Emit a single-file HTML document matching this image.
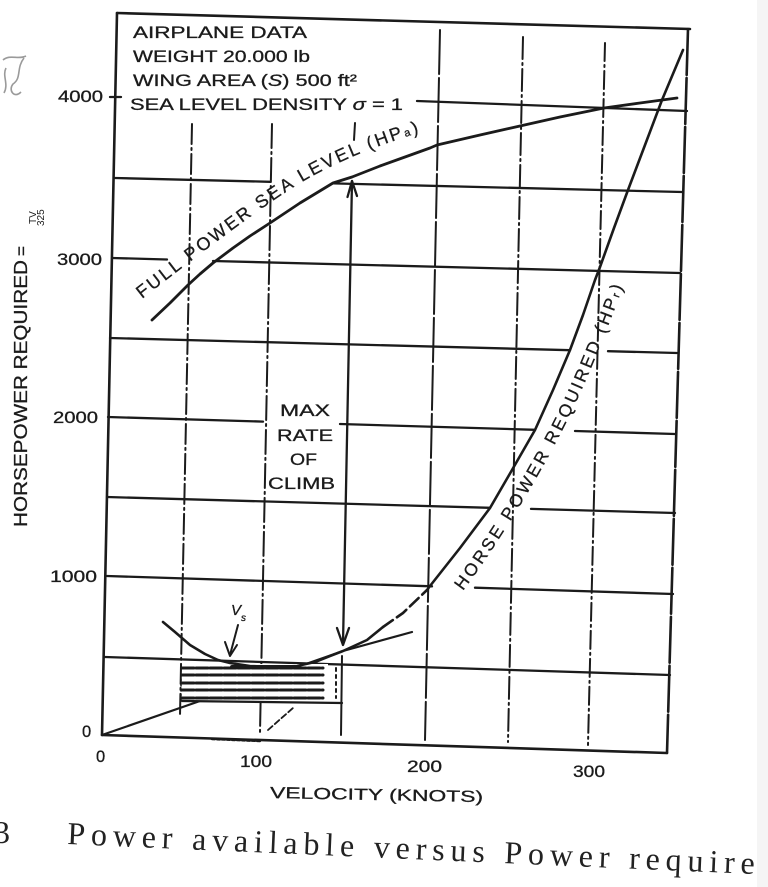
<!DOCTYPE html>
<html><head><meta charset="utf-8"><style>
html,body{margin:0;padding:0;background:#fff;}
svg{display:block;}
</style></head><body>
<svg width="768" height="887" viewBox="0 0 768 887" xmlns="http://www.w3.org/2000/svg">
<rect width="768" height="887" fill="#fff"/>
<rect x="757" y="0" width="11" height="887" fill="#f5f5f5"/>
<defs>
<path id="fp" d="M142,299 C197,256 257,210 297,185 C327,167 367,148 425,131"/>
<path id="hr" d="M463,591 C495,548 536,483 566,423 C586,383 606,333 624,284"/>
</defs>
<!-- scribble -->
<path d="M3,60 C10,54 18,60 26,56 M24,58 C16,68 22,78 13,84 C8,90 14,99 21,92 M6,68 C2,76 9,84 4,93" stroke="#9a9a9a" stroke-width="1.6" fill="none"/>
<g stroke="#1b1b1b" fill="none" stroke-linecap="round" stroke-linejoin="round">
 <!-- frame -->
 <g stroke-width="2.6">
  <line x1="117" y1="13" x2="690" y2="29"/>
  <line x1="117" y1="13" x2="102" y2="735"/>
  <line x1="102" y1="735" x2="667" y2="753"/>
  <line x1="688" y1="29" x2="667" y2="753" stroke-dasharray="46 3"/>
 </g>
 <!-- horizontal grid -->
 <g stroke-width="2.3">
  <line x1="105" y1="657" x2="670" y2="675"/>
  <line x1="107" y1="576" x2="432" y2="586.3"/>
  <line x1="475" y1="587.7" x2="673" y2="594"/>
  <line x1="107" y1="497" x2="490" y2="507.8"/>
  <line x1="531" y1="508.9" x2="675" y2="513"/>
  <line x1="108" y1="417" x2="263" y2="421.6"/>
  <line x1="340" y1="424" x2="535" y2="429.8"/>
  <line x1="575" y1="431" x2="675" y2="434"/>
  <line x1="110" y1="338" x2="570" y2="350.2"/>
  <line x1="608" y1="351.2" x2="677" y2="353"/>
  <line x1="112" y1="258" x2="167" y2="259.5"/>
  <line x1="213" y1="261" x2="680" y2="273"/>
  <line x1="115" y1="178" x2="270" y2="181.8"/>
  <line x1="333" y1="183.4" x2="682" y2="192"/>
  <line x1="110" y1="97" x2="121" y2="97"/>
  <line x1="417" y1="101" x2="687" y2="111"/>
 </g>
 <!-- vertical grid -->
 <g stroke-width="2">
  <line x1="192" y1="124" x2="180" y2="715" stroke-dasharray="20 4 2 4"/>
  <line x1="272" y1="124" x2="260" y2="732" stroke-dasharray="24 4 2 4"/>
  <line x1="440" y1="30" x2="425" y2="740" stroke-dasharray="44 4"/>
  <line x1="523" y1="37" x2="508" y2="742" stroke-dasharray="22 4 2 4"/>
  <line x1="605" y1="43" x2="588" y2="745" stroke-dasharray="18 4 2 4"/>
  <line x1="355" y1="123" x2="354" y2="140"/>
  <line x1="342" y1="656" x2="341" y2="735"/>
 </g>
 <!-- max rate of climb arrow -->
 <g stroke-width="2.3">
  <line x1="352" y1="181" x2="343" y2="644"/>
  <polyline points="347.5,197 352,181 357,196"/>
  <polyline points="337,628 343,645 349,628"/>
 </g>
 <!-- full power curve -->
 <polyline stroke-width="2.8" points="152,320 170,303 188,285 200,274 213,263 233,248 250,236 270,223 300,203 333,183 352,177 380,166 405,157 430,148 437,145 480,135 520,126 560,117 604,108 640,103 677,98"/>
 <!-- tangent line -->
 <polyline stroke-width="2.2" points="102,735 200,701 343,651 412,632"/>
 <!-- hatched box -->
 <rect x="183" y="664" width="145" height="37" fill="#fff" stroke="none"/>
 <g stroke-width="3" stroke-dasharray="12 2">
  <line x1="182" y1="668" x2="323" y2="668"/>
  <line x1="182" y1="675" x2="323" y2="675"/>
  <line x1="182" y1="683" x2="323" y2="683"/>
  <line x1="182" y1="690" x2="323" y2="690"/>
  <line x1="182" y1="698" x2="323" y2="698"/>
 </g>
 <line x1="182" y1="701" x2="342" y2="703" stroke-width="2.2"/>
 <line x1="181" y1="664" x2="181" y2="700" stroke-width="1.5" stroke-dasharray="2 3"/>
 <line x1="336" y1="668" x2="336" y2="698" stroke-width="2" stroke-dasharray="3 4"/>
 <line x1="268" y1="730" x2="293" y2="708" stroke-width="1.8" stroke-dasharray="6 3"/>
 <line x1="212" y1="739" x2="260" y2="741" stroke-width="2.5" stroke-dasharray="3 2"/>
 <!-- HP required curve -->
 <polyline stroke-width="2.6" points="163,622 175,632 190,645 205,654 218,660 230,663 250,666 275,667 297,666 315,662 330,656 343,651 367,640 383,627"/>
 <line x1="232" y1="667" x2="297" y2="667" stroke-width="4"/>
 <polyline stroke-width="2.6" stroke-dasharray="12 5" points="383,627 403,613 427,590 430,586"/>
 <polyline stroke-width="2.6" points="430,586 460,548 490,508 512,470 535,430 553,390 570,350 583,315 595,280 600,267 614,228 628,190 645,145 662,100 683,50"/>
 <!-- Vs arrow -->
 <line x1="238" y1="625" x2="230" y2="655" stroke-width="2"/>
 <polyline stroke-width="2" points="225,642 230,656 237,645"/>
</g>
<g fill="#1b1b1b" stroke="#1b1b1b" stroke-width="0.3" font-family="Liberation Sans, Arial, sans-serif">
 <!-- airplane data -->
 <text x="133" y="38" font-size="16.5" textLength="174" lengthAdjust="spacingAndGlyphs">AIRPLANE DATA</text>
 <text x="133" y="62" font-size="16.5" textLength="177" lengthAdjust="spacingAndGlyphs">WEIGHT 20.000 lb</text>
 <text x="133" y="86" font-size="16.5" textLength="224" lengthAdjust="spacingAndGlyphs">WING AREA (<tspan font-style="italic">S</tspan>) 500 ft²</text>
 <text x="130" y="110" font-size="16.5" textLength="273" lengthAdjust="spacingAndGlyphs">SEA LEVEL DENSITY <tspan font-style="italic">σ</tspan> = 1</text>
 <!-- y ticks -->
 <text x="58" y="102" font-size="16.5" textLength="45" lengthAdjust="spacingAndGlyphs">4000</text>
 <text x="57" y="265" font-size="16.5" textLength="45" lengthAdjust="spacingAndGlyphs">3000</text>
 <text x="53" y="423" font-size="16.5" textLength="45" lengthAdjust="spacingAndGlyphs">2000</text>
 <text x="50" y="582" font-size="16.5" textLength="47" lengthAdjust="spacingAndGlyphs">1000</text>
 <text x="82" y="737" font-size="16.5">0</text>
 <!-- x ticks -->
 <text x="96" y="762" font-size="16.5">0</text>
 <text x="240" y="767" font-size="16.5" textLength="32" lengthAdjust="spacingAndGlyphs">100</text>
 <text x="407" y="772" font-size="16.5" textLength="35" lengthAdjust="spacingAndGlyphs">200</text>
 <text x="573" y="777" font-size="16.5" textLength="32" lengthAdjust="spacingAndGlyphs">300</text>
 <text transform="translate(270,798) rotate(1.1)" font-size="16" textLength="213" lengthAdjust="spacingAndGlyphs">VELOCITY (KNOTS)</text>
 <!-- y label -->
 <text transform="translate(27,527) rotate(-90)" font-size="18" textLength="267" lengthAdjust="spacingAndGlyphs">HORSEPOWER REQUIRED</text>
 <text transform="translate(27,256) rotate(-90)" font-size="17">=</text>
 <text transform="translate(36,224) rotate(-90)" font-size="10" stroke="none">TV</text>
 <text transform="translate(44,226) rotate(-90)" font-size="10" stroke="none">325</text>
 <!-- max rate of climb -->
 <text x="280" y="416" font-size="17" textLength="50" lengthAdjust="spacingAndGlyphs">MAX</text>
 <text x="277" y="441" font-size="17" textLength="56" lengthAdjust="spacingAndGlyphs">RATE</text>
 <text x="290" y="465" font-size="17" textLength="27" lengthAdjust="spacingAndGlyphs">OF</text>
 <text x="268" y="489" font-size="17" textLength="67" lengthAdjust="spacingAndGlyphs">CLIMB</text>
 <!-- Vs -->
 <text x="231" y="615" font-size="15" font-style="italic">V</text>
 <text x="241" y="621" font-size="10" font-style="italic">s</text>
 <!-- curve labels -->
 <text font-size="18"><textPath href="#fp" textLength="326" lengthAdjust="spacing">FULL POWER SEA LEVEL (HP<tspan font-size="11">a</tspan>)</textPath></text>
 <text font-size="17.5"><textPath href="#hr" textLength="345" lengthAdjust="spacing">HORSE POWER REQUIRED (HP<tspan font-size="11">r</tspan>)</textPath></text>
</g>
<!-- caption -->
<g fill="#222" font-family="Liberation Serif, Times New Roman, serif">
 <text x="-6" y="843" font-size="32">3</text>
 <text transform="translate(67,844) rotate(2.5)" font-size="32" textLength="688" lengthAdjust="spacing">Power available versus Power require</text>
</g>
</svg>
</body></html>
